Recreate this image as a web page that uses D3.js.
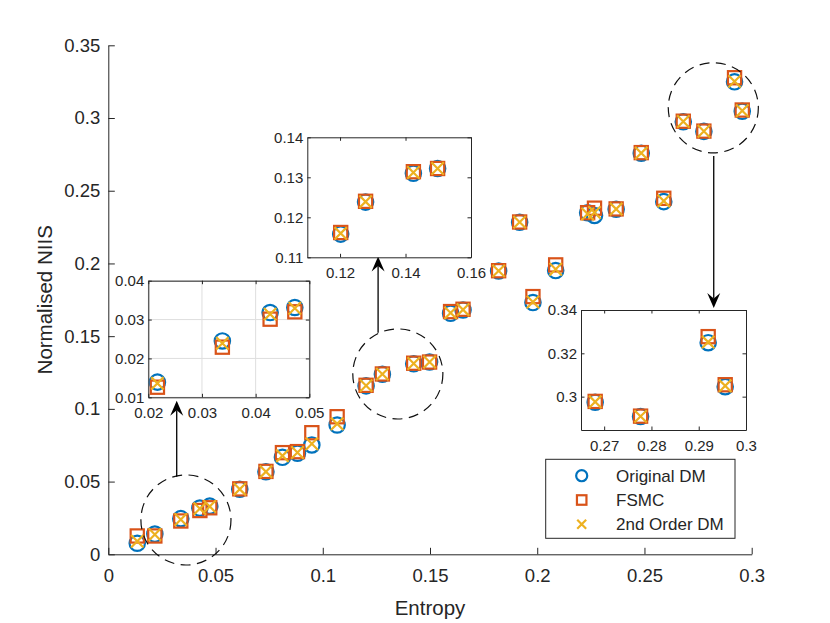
<!DOCTYPE html>
<html>
<head>
<meta charset="utf-8">
<script src="https://cdn.jsdelivr.net/npm/d3@7"></script>
<style>
body { margin: 0; background: #fff; }
svg text { font-family: "Liberation Sans", Arial, Helvetica, sans-serif; fill: #262626; }
</style>
</head>
<body>
<div id="chart"></div>
<script>
// values
var entropy = [0.0135, 0.0217, 0.0338, 0.0427, 0.0473, 0.0613, 0.0735, 0.0812, 0.0882, 0.0949,
    0.1067, 0.1202, 0.1278, 0.1424, 0.1498, 0.1596, 0.1654, 0.1820, 0.1918, 0.1980,
    0.2086, 0.2235, 0.2267, 0.2368, 0.2485, 0.2590, 0.2681, 0.2777, 0.2920, 0.2956];
var originalDM = [0.0076, 0.0139, 0.0245, 0.0318, 0.0331, 0.0447, 0.0568, 0.0667, 0.0695, 0.0752,
    0.0889, 0.1158, 0.1238, 0.1310, 0.1322, 0.1657, 0.1680, 0.1948, 0.2283, 0.1731,
    0.1951, 0.2349, 0.2330, 0.2373, 0.2758, 0.2425, 0.2974, 0.2908, 0.3249, 0.3046];
var fsmc = [0.0126, 0.0126, 0.0229, 0.0301, 0.0320, 0.0450, 0.0570, 0.0699, 0.0706, 0.0836,
    0.0946, 0.1162, 0.1240, 0.1314, 0.1322, 0.1669, 0.1685, 0.1950, 0.2285, 0.1772,
    0.1990, 0.2349, 0.2380, 0.2375, 0.2762, 0.2448, 0.2978, 0.2910, 0.3277, 0.3055];
var secondOrderDM = [0.0090, 0.0136, 0.0239, 0.0314, 0.0329, 0.0448, 0.0568, 0.0677, 0.0700, 0.0760,
    0.0897, 0.1160, 0.1239, 0.1312, 0.1322, 0.1660, 0.1682, 0.1949, 0.2284, 0.1735,
    0.1960, 0.2340, 0.2350, 0.2374, 0.2759, 0.2430, 0.2976, 0.2909, 0.3252, 0.3050];

var seriesNames = ["Original DM", "FSMC", "2nd Order DM"];

var xTicks = [0, 0.05, 0.1, 0.15, 0.2, 0.25, 0.3];
var yTicks = [0, 0.05, 0.1, 0.15, 0.2, 0.25, 0.3, 0.35];

// zoomed regions (domains and ticks)
var zoomDomains = [
    {x: [0.02, 0.05], y: [0.01, 0.04], xTicks: [0.02, 0.03, 0.04, 0.05], yTicks: [0.01, 0.02, 0.03, 0.04], grid: true},
    {x: [0.11, 0.16], y: [0.11, 0.14], xTicks: [0.12, 0.14, 0.16], yTicks: [0.11, 0.12, 0.13, 0.14], grid: false},
    {x: [0.2651, 0.3], y: [0.2846, 0.34], xTicks: [0.27, 0.28, 0.29, 0.3], yTicks: [0.3, 0.32, 0.34], grid: false}
];
// dashed circles and arrows, in main-axis data units
var circleCentres = [[0.0362, 0.0236], [0.135, 0.124], [0.2821, 0.307]];
var circleRadius = 0.021;
var arrowLines = [[0.0319, 0.0534, 0.1056], [0.1258, 0.1523, 0.2047], [0.2823, 0.2739, 0.1693]];

var width = 830, height = 623;
var colors = ["#0072BD", "#D95319", "#EDB120"];
var ink = "#262626";

var svg = d3.select("#chart").append("svg")
    .attr("width", width)
    .attr("height", height)
    .attr("viewBox", `0 0 ${width} ${height}`);

svg.append("rect").attr("width", width).attr("height", height).attr("fill", "#fff");

var plot = {left: 108.3, right: 751.7, top: 45.3, bottom: 554.3};

var xScale = d3.scaleLinear().domain([0, 0.3]).range([plot.left, plot.right]);
var yScale = d3.scaleLinear().domain([0, 0.35]).range([plot.bottom, plot.top]);

var fmt = d => String(+d.toFixed(3));

var points = entropy.map((e, i) => ({x: e, ys: [originalDM[i], fsmc[i], secondOrderDM[i]]}));

function drawMarker(sel, k, size) {
    var s = size || 1;
    if (k == 0) {
        sel.append("circle").attr("r", 7.7 * s)
            .attr("fill", "none").attr("stroke", colors[0]).attr("stroke-width", 2.2);
    } else if (k == 1) {
        var h = 6.6 * s;
        sel.append("rect").attr("x", -h).attr("y", -h).attr("width", 2 * h).attr("height", 2 * h)
            .attr("fill", "none").attr("stroke", colors[1]).attr("stroke-width", 2.2);
    } else {
        var c = 6.2 * s;
        sel.append("path").attr("d", `M${-c},${-c}L${c},${c}M${-c},${c}L${c},${-c}`)
            .attr("fill", "none").attr("stroke", colors[2]).attr("stroke-width", 2.2);
    }
}

function drawPoints(g, data, xs, ys) {
    [0, 1, 2].forEach(k => {
        g.append("g").selectAll("g")
            .data(data)
            .enter().append("g")
            .attr("transform", d => `translate(${xs(d.x)},${ys(d.ys[k])})`)
            .each(function() { drawMarker(d3.select(this), k); });
    });
}

function styleAxis(sel, fontSize) {
    sel.attr("color", ink).attr("font-size", fontSize)
        .attr("font-family", "Liberation Sans, Arial, sans-serif");
    sel.selectAll("path, line").attr("stroke", ink).attr("stroke-width", 1);
}

// main axes
var main = svg.append("g");

main.append("g")
    .attr("transform", `translate(0,${plot.bottom})`)
    .call(d3.axisBottom(xScale).tickValues(xTicks).tickFormat(fmt).tickSizeInner(-6.5).tickSizeOuter(0).tickPadding(15))
    .call(styleAxis, 18.5);

main.append("g")
    .attr("transform", `translate(${plot.left},0)`)
    .call(d3.axisLeft(yScale).tickValues(yTicks).tickFormat(fmt).tickSizeInner(-6.5).tickSizeOuter(0).tickPadding(8))
    .call(styleAxis, 18.5);

main.append("text")
    .attr("x", (plot.left + plot.right) / 2)
    .attr("y", 615)
    .attr("text-anchor", "middle")
    .attr("font-size", 20.5)
    .text("Entropy");

main.append("text")
    .attr("transform", `translate(51.5,${(plot.top + plot.bottom) / 2}) rotate(-90)`)
    .attr("text-anchor", "middle")
    .attr("font-size", 20.5)
    .text("Normalised NIIS");

drawPoints(main, points, xScale, yScale);

// dashed circles
main.selectAll(".ring")
    .data(circleCentres)
    .enter().append("circle")
    .attr("class", "ring")
    .attr("cx", d => xScale(d[0]))
    .attr("cy", d => yScale(d[1]))
    .attr("r", xScale(circleRadius) - xScale(0))
    .attr("fill", "none")
    .attr("stroke", "#111")
    .attr("stroke-width", 1.2)
    .attr("stroke-dasharray", "10,6.5");

// arrows
arrowLines.forEach(a => {
    var x = xScale(a[0]), y1 = yScale(a[1]), y2 = yScale(a[2]);
    var dir = y2 < y1 ? 1 : -1; // 1 = pointing up
    var L = 15, w = 6.5, notch = 9.5;
    main.append("line")
        .attr("x1", x).attr("x2", x)
        .attr("y1", y1).attr("y2", y2 + dir * notch)
        .attr("stroke", "#000").attr("stroke-width", 1.3);
    main.append("path")
        .attr("d", `M${x},${y2}L${x - w},${y2 + dir * L}L${x},${y2 + dir * notch}L${x + w},${y2 + dir * L}Z`)
        .attr("fill", "#000");
});

// inset axes
var insetBoxes = [
    {left: 148.3, top: 280.7, width: 161, height: 116.6},
    {left: 307.3, top: 137.3, width: 163.7, height: 120},
    {left: 581, top: 310, width: 165, height: 120}
];

zoomDomains.forEach((z, i) => {
    var box = insetBoxes[i];
    var g = svg.append("g").attr("transform", `translate(${box.left},${box.top})`);
    var xs = d3.scaleLinear().domain(z.x).range([0, box.width]);
    var ys = d3.scaleLinear().domain(z.y).range([box.height, 0]);

    g.append("rect").attr("width", box.width).attr("height", box.height).attr("fill", "#fff");

    if (z.grid) {
        g.append("g").selectAll("line")
            .data(z.xTicks)
            .enter().append("line")
            .attr("x1", d => xs(d)).attr("x2", d => xs(d))
            .attr("y1", 0).attr("y2", box.height)
            .attr("stroke", "#dedede");
        g.append("g").selectAll("line")
            .data(z.yTicks)
            .enter().append("line")
            .attr("y1", d => ys(d)).attr("y2", d => ys(d))
            .attr("x1", 0).attr("x2", box.width)
            .attr("stroke", "#dedede");
    }

    var tk = 3.5;
    g.append("g").attr("transform", `translate(0,${box.height})`)
        .call(d3.axisBottom(xs).tickValues(z.xTicks).tickFormat(fmt).tickSizeInner(-tk).tickSizeOuter(0).tickPadding(10))
        .call(styleAxis, 15);
    g.append("g")
        .call(d3.axisTop(xs).tickValues(z.xTicks).tickFormat("").tickSizeInner(-tk).tickSizeOuter(0))
        .call(styleAxis, 15);
    g.append("g")
        .call(d3.axisLeft(ys).tickValues(z.yTicks).tickFormat(fmt).tickSizeInner(-tk).tickSizeOuter(0).tickPadding(4))
        .call(styleAxis, 15);
    g.append("g").attr("transform", `translate(${box.width},0)`)
        .call(d3.axisRight(ys).tickValues(z.yTicks).tickFormat("").tickSizeInner(-tk).tickSizeOuter(0))
        .call(styleAxis, 15);

    // only points whose values sit inside the zoomed window
    var inside = points.filter(p => p.x >= z.x[0] && p.x <= z.x[1] &&
        p.ys[0] >= z.y[0] && p.ys[0] <= z.y[1]);
    drawPoints(g, inside, xs, ys);
});

// legend
var legend = svg.append("g").attr("transform", "translate(545.7,459.3)");
legend.append("rect")
    .attr("width", 189.3).attr("height", 79)
    .attr("fill", "#fff").attr("stroke", ink).attr("stroke-width", 1);

var rowY = d3.scalePoint().domain(seriesNames).range([16.4, 65]);

seriesNames.forEach((name, k) => {
    var row = legend.append("g").attr("transform", `translate(36,${rowY(name)})`);
    drawMarker(row, k, 0.72);
    legend.append("text")
        .attr("x", 70.3)
        .attr("y", rowY(name))
        .attr("dy", "0.35em")
        .attr("font-size", 17)
        .text(name);
});
</script>
</body>
</html>
